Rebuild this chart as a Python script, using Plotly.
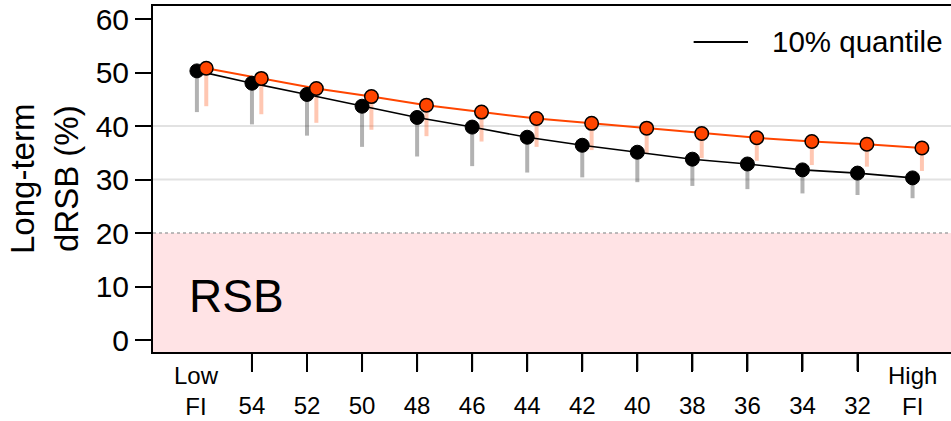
import plotly.graph_objects as go

# Fishing-intensity levels along the x axis
tick_labels = ["Low FI", "54", "52", "50", "48", "46", "44", "42", "40",
               "38", "36", "34", "32", "High FI"]

# Long-term dRSB (%) medians and 10% quantiles for the two series
median_base = [50.3, 48.0, 45.9, 43.7, 41.6, 39.8, 37.9, 36.4, 35.1, 33.8,
               32.9, 31.8, 31.2, 30.3]
q10_base = [42.6, 40.3, 38.2, 36.1, 34.3, 32.5, 31.3, 30.4, 29.5, 28.8,
            28.2, 27.4, 27.1, 26.5]
median_alt = [50.8, 48.9, 47.0, 45.5, 43.9, 42.6, 41.4, 40.5, 39.6, 38.6,
              37.8, 37.1, 36.6, 35.9]
q10_alt = [43.7, 42.2, 40.6, 39.3, 38.1, 37.1, 36.1, 35.5, 34.9, 34.0,
           33.5, 32.7, 32.4, 31.6]

y_ticks = [0, 10, 20, 30, 40, 50, 60]
grid_levels = [30, 40]
rsb_limit = 20

FONT = "Arial, Liberation Sans, sans-serif"
ORANGE = "#FF4500"

n = len(tick_labels)
x_pos = list(range(1, n + 1))
dodge = 0.17
x_alt = [x + dodge for x in x_pos]
x_range = [0.2026, 14.698]
y_range = [-2.24, 62.43]
plot_h = 421 - 6 - 69

# numbered levels get a tick mark; the two end levels are labelled only
inner_vals = x_pos[1:-1]
inner_text = ["<br>" + lab for lab in tick_labels[1:-1]]
end_levels = [(x_pos[0], tick_labels[0]), (x_pos[-1], tick_labels[-1])]


def to_paper_x(xv):
    return (xv - x_range[0]) / (x_range[1] - x_range[0])


def stems(xs, tops, bottoms):
    sx, sy = [], []
    for x, t, b in zip(xs, tops, bottoms):
        sx += [x, x, None]
        sy += [t, b, None]
    return sx, sy


fig = go.Figure()

sx, sy = stems(x_pos, median_base, q10_base)
fig.add_trace(go.Scatter(x=sx, y=sy, mode="lines",
                         line=dict(color="rgba(0,0,0,0.3)", width=4),
                         hoverinfo="skip", showlegend=False))
sx, sy = stems(x_alt, median_alt, q10_alt)
fig.add_trace(go.Scatter(x=sx, y=sy, mode="lines",
                         line=dict(color="rgba(255,69,0,0.3)", width=4),
                         hoverinfo="skip", showlegend=False))

fig.add_trace(go.Scatter(x=x_pos, y=median_base, mode="lines",
                         line=dict(color="black", width=1.6),
                         showlegend=False))
fig.add_trace(go.Scatter(x=x_alt, y=median_alt, mode="lines",
                         line=dict(color=ORANGE, width=2),
                         showlegend=False))
fig.add_trace(go.Scatter(x=x_pos, y=median_base, mode="markers",
                         marker=dict(color="black", size=14,
                                     line=dict(color="black", width=1)),
                         showlegend=False))
fig.add_trace(go.Scatter(x=x_alt, y=median_alt, mode="markers",
                         marker=dict(color=ORANGE, size=13.5,
                                     line=dict(color="black", width=1.5)),
                         showlegend=False))

shapes = [
    dict(type="rect", xref="paper", yref="y", x0=0, x1=1,
         y0=y_range[0], y1=rsb_limit, fillcolor="#FFE3E5",
         line=dict(width=0), layer="below"),
    dict(type="line", xref="paper", yref="y", x0=0, x1=1,
         y0=rsb_limit, y1=rsb_limit,
         line=dict(color="#A6A6A6", width=1.5, dash="dot"), layer="below"),
]
for g in grid_levels:
    shapes.append(dict(type="line", xref="paper", yref="y", x0=0, x1=1,
                       y0=g, y1=g, line=dict(color="#E2E2E2", width=2),
                       layer="below"))
# tick marks hanging below the box
for xv in inner_vals:
    px = to_paper_x(xv)
    shapes.append(dict(type="line", xref="paper", yref="paper",
                       x0=px, x1=px, y0=0, y1=-19 / plot_h,
                       line=dict(color="black", width=2)))
# legend key
shapes.append(dict(type="line", xref="paper", yref="paper",
                   x0=0.6775, x1=0.7456, y0=0.896, y1=0.896,
                   line=dict(color="black", width=2)))

annotations = [
    dict(text="10% quantile", xref="paper", yref="paper", x=0.7735,
         y=0.896, xanchor="left", yanchor="middle", showarrow=False,
         font=dict(family=FONT, size=29.5, color="black")),
    dict(text="RSB", xref="paper", yref="y", x=0.043, y=8.3,
         xanchor="left", yanchor="middle", showarrow=False,
         font=dict(family=FONT, size=46, color="black")),
    dict(text="Long-term", xref="paper", yref="paper",
         x=0, y=0.5, xshift=-131, xanchor="center", yanchor="middle",
         textangle=-90, showarrow=False,
         font=dict(family=FONT, size=33, color="black")),
    dict(text="dRSB (%)", xref="paper", yref="paper",
         x=0, y=0.5, xshift=-87, xanchor="center", yanchor="middle",
         textangle=-90, showarrow=False,
         font=dict(family=FONT, size=33, color="black")),
]
for xv, lab in end_levels:
    annotations.append(dict(text=lab.replace(" ", "<br>"), xref="x",
                            yref="paper", x=xv, y=0, yanchor="top",
                            xanchor="center", yshift=-8, showarrow=False,
                            align="center",
                            font=dict(family=FONT, size=24, color="black")))

fig.update_layout(
    width=951, height=421,
    margin=dict(l=153, r=0, t=6, b=69, pad=0),
    paper_bgcolor="white", plot_bgcolor="white",
    font=dict(family=FONT, color="black"),
    shapes=shapes, annotations=annotations,
    xaxis=dict(range=x_range, tickmode="array", tickvals=inner_vals,
               ticktext=inner_text, ticks="outside", ticklen=18,
               tickwidth=2, tickcolor="#000000", ticklabelstandoff=-18,
               showgrid=False, zeroline=False, showline=True, mirror=True,
               linecolor="black", linewidth=2,
               tickfont=dict(family=FONT, size=24, color="black")),
    yaxis=dict(range=y_range, tickmode="array", tickvals=y_ticks,
               ticks="outside", ticklen=16, tickwidth=2, tickcolor="black",
               showgrid=False, zeroline=False, showline=True,
               linecolor="black", linewidth=2,
               tickfont=dict(family=FONT, size=30, color="black")),
)

fig.write_html("out.html")
